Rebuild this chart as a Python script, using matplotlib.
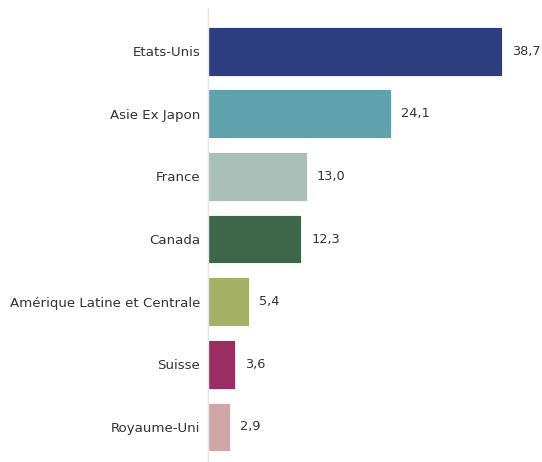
import matplotlib.pyplot as plt

regions = ['Etats-Unis', 'Asie Ex Japon', 'France', 'Canada',
           'Amérique Latine et Centrale', 'Suisse', 'Royaume-Uni']
values = [38.7, 24.1, 13.0, 12.3, 5.4, 3.6, 2.9]
colors = ['#2E3C80', '#5FA2AE', '#A9BFB8', '#3D664A',
          '#A3B065', '#9C2D62', '#CFA5A8']

fig = plt.figure(figsize=(5.42, 4.62), dpi=100)
ax = fig.add_axes([208 / 542, 0, 332 / 542, 454 / 462])

pos = range(len(regions))
ax.barh(pos, values, height=0.78, color=colors, edgecolor='white', linewidth=0.6)

for i, v in enumerate(values):
    ax.text(v + 1.3, i, f'{v:.1f}'.replace('.', ','), va='center', ha='left',
            fontsize=9.3, color='#333333')

ax.set_yticks(list(pos))
ax.set_yticklabels(regions, fontsize=9.6, color='#333333')
ax.tick_params(axis='y', length=0, pad=5.5)
ax.set_xticks([])
ax.set_xlim(0, 43.7)
ax.set_ylim(6.56, -0.69)

for s in ['top', 'right', 'bottom']:
    ax.spines[s].set_visible(False)
ax.spines['left'].set_color('#E6E6E6')
ax.spines['left'].set_linewidth(1)

fig.savefig('out.png', dpi=100)
